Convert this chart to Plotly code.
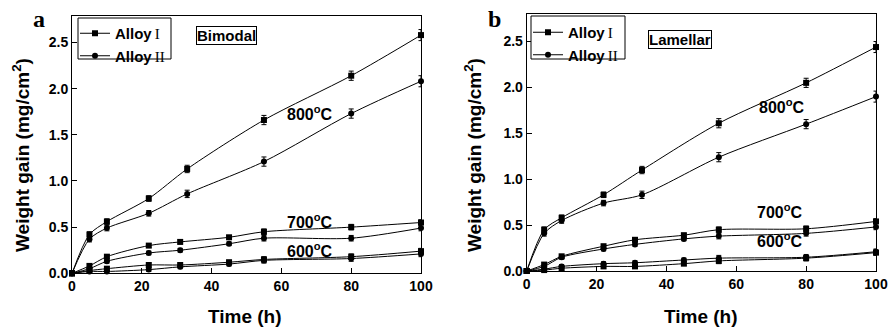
import plotly.graph_objects as go

# ---------------- data ----------------
time_800 = [0, 5, 10, 22, 33, 55, 80, 100]
time_low = [0, 5, 10, 22, 31, 45, 55, 80, 100]

# panel a (Bimodal)
a_800_I = [0, 0.42, 0.56, 0.81, 1.13, 1.66, 2.14, 2.58]
a_800_II = [0, 0.37, 0.49, 0.65, 0.86, 1.21, 1.73, 2.08]
a_700_I = [0, 0.08, 0.18, 0.30, 0.34, 0.39, 0.45, 0.50, 0.55]
a_700_II = [0, 0.05, 0.13, 0.22, 0.25, 0.32, 0.38, 0.38, 0.49]
a_600_I = [0, 0.03, 0.05, 0.09, 0.09, 0.12, 0.15, 0.18, 0.24]
a_600_II = [0, 0.02, 0.02, 0.04, 0.07, 0.10, 0.14, 0.16, 0.21]

# panel b (Lamellar)
b_800_I = [0, 0.45, 0.58, 0.83, 1.10, 1.61, 2.05, 2.44]
b_800_II = [0, 0.41, 0.55, 0.74, 0.83, 1.24, 1.60, 1.90]
b_700_I = [0, 0.07, 0.16, 0.27, 0.34, 0.39, 0.45, 0.46, 0.54]
b_700_II = [0, 0.05, 0.15, 0.24, 0.29, 0.35, 0.38, 0.41, 0.48]
b_600_I = [0, 0.01, 0.03, 0.05, 0.05, 0.08, 0.11, 0.14, 0.20]
b_600_II = [0, 0.02, 0.05, 0.08, 0.09, 0.12, 0.14, 0.15, 0.21]

err_800 = [0, 0.03, 0.03, 0.03, 0.04, 0.05, 0.05, 0.06]
err_low = [0, 0.02, 0.02, 0.02, 0.02, 0.02, 0.03, 0.03, 0.03]

x_ticks = [0, 20, 40, 60, 80, 100]
y_ticks = [0.0, 0.5, 1.0, 1.5, 2.0, 2.5]
y_tick_labels = ["0.0", "0.5", "1.0", "1.5", "2.0", "2.5"]

temp_labels = ["800<sup>o</sup>C", "700<sup>o</sup>C", "600<sup>o</sup>C"]
a_label_pos = [(68.3, 1.74), (68.3, 0.57), (68.3, 0.25)]
b_label_pos = [(73.0, 1.80), (72.5, 0.65), (72.5, 0.34)]

alloy_names = [
    "Alloy<span style='font-family:Liberation Serif;font-weight:normal'>\u2009I</span>",
    "Alloy<span style='font-family:Liberation Serif;font-weight:normal'>\u2009II</span>",
]

SANS = "Liberation Sans, Arial, sans-serif"
fig = go.Figure()


def add_panel(xa, ya, leg, series):
    for i, (t, v, e, alloy, show) in enumerate(series):
        fig.add_trace(go.Scatter(
            x=t, y=v, mode="lines+markers",
            line=dict(color="black", width=1, shape="spline", smoothing=0.8),
            marker=dict(symbol="square" if alloy == 0 else "circle",
                        size=6, color="black"),
            error_y=dict(type="data", array=e, visible=True, color="black",
                         thickness=1, width=2.5),
            name=alloy_names[alloy], showlegend=show,
            legend=leg, xaxis=xa, yaxis=ya, cliponaxis=False,
        ))


add_panel("x", "y", "legend", [
    (time_800, a_800_I, err_800, 0, True),
    (time_800, a_800_II, err_800, 1, True),
    (time_low, a_700_I, err_low, 0, False),
    (time_low, a_700_II, err_low, 1, False),
    (time_low, a_600_I, err_low, 0, False),
    (time_low, a_600_II, err_low, 1, False),
])
add_panel("x2", "y2", "legend2", [
    (time_800, b_800_I, err_800, 0, True),
    (time_800, b_800_II, err_800, 1, True),
    (time_low, b_700_I, err_low, 0, False),
    (time_low, b_700_II, err_low, 1, False),
    (time_low, b_600_I, err_low, 0, False),
    (time_low, b_600_II, err_low, 1, False),
])

W, H = 891, 329


def px_x(p):
    return p / W


def px_y(p):
    return 1 - p / H


axis_common = dict(
    showline=True, linecolor="black", linewidth=1, mirror=True,
    ticks="inside", ticklen=5, tickcolor="black", tickwidth=1,
    showgrid=False, zeroline=False, automargin=False,
    tickfont=dict(family=SANS, size=14, color="black", weight="bold"),
)

legend_common = dict(
    xanchor="left", yanchor="top",
    bgcolor="rgba(0,0,0,0)", borderwidth=0,
    itemwidth=30, tracegroupgap=0,
    font=dict(family=SANS, size=15, color="black", weight="bold"),
)

fig.update_layout(
    width=W, height=H,
    margin=dict(l=0, r=0, t=0, b=0, pad=0, autoexpand=False),
    paper_bgcolor="white", plot_bgcolor="white",
    xaxis=dict(domain=[px_x(72), px_x(421)], range=[0, 100],
               tickvals=x_ticks, anchor="y", **axis_common),
    yaxis=dict(domain=[px_y(273.3), px_y(15.7)], range=[0, 2.79],
               tickvals=y_ticks, ticktext=y_tick_labels, anchor="x", **axis_common),
    xaxis2=dict(domain=[px_x(526.7), px_x(876)], range=[0, 100],
                tickvals=x_ticks, anchor="y2", **axis_common),
    yaxis2=dict(domain=[px_y(271), px_y(14)], range=[0, 2.80],
                tickvals=y_ticks, ticktext=y_tick_labels, anchor="x2", **axis_common),
    legend=dict(x=px_x(75), y=px_y(17), **legend_common),
    legend2=dict(x=px_x(528), y=px_y(16), **legend_common),
)

# legend frames
shapes = []
for x0, y0, x1, y1 in [(78, 18, 171, 59), (531, 16, 625, 59)]:
    shapes.append(dict(type="rect", xref="paper", yref="paper",
                       x0=px_x(x0), x1=px_x(x1), y0=px_y(y1), y1=px_y(y0),
                       line=dict(color="black", width=1), fillcolor="white",
                       layer="above"))
fig.update_layout(shapes=shapes)

ann = []
C = dict(xanchor="center", yanchor="middle", showarrow=False)
# temperature labels
for (xx, yy), txt in zip(a_label_pos, temp_labels):
    ann.append(dict(x=xx, y=yy, xref="x", yref="y", text=txt, **C,
                    font=dict(family=SANS, size=16, color="black", weight="bold")))
for (xx, yy), txt in zip(b_label_pos, temp_labels):
    ann.append(dict(x=xx, y=yy, xref="x2", yref="y2", text=txt, **C,
                    font=dict(family=SANS, size=16, color="black", weight="bold")))

# boxed microstructure labels
for cx, cy, txt in [(226.5, 35.5, "Bimodal"), (680, 39.5, "Lamellar")]:
    ann.append(dict(x=px_x(cx), y=px_y(cy), xref="paper", yref="paper", text=txt, **C,
                    bordercolor="black", borderwidth=1, borderpad=0,
                    bgcolor="white",
                    font=dict(family=SANS, size=15, color="black", weight="bold")))

# panel letters
for cx, cy, txt in [(39, 19, "a"), (494, 19, "b")]:
    ann.append(dict(x=px_x(cx), y=px_y(cy), xref="paper", yref="paper", text=txt, **C,
                    font=dict(family="Liberation Serif, Times New Roman, serif",
                              size=24, color="black", weight="bold")))

# axis titles
for cx in [245, 701]:
    ann.append(dict(x=px_x(cx), y=px_y(316), xref="paper", yref="paper",
                    text="Time (h)", **C,
                    font=dict(family=SANS, size=19, color="black", weight="bold")))
for cx in [21, 473]:
    ann.append(dict(x=px_x(cx), y=px_y(155), xref="paper", yref="paper",
                    text="Weight gain (mg/cm<sup>2</sup>)", textangle=-90, **C,
                    font=dict(family=SANS, size=19, color="black", weight="bold")))

fig.update_layout(annotations=ann)
fig.write_html(
    "out.html",
    config={"displayModeBar": False},
    post_script="document.body.style.margin='0';document.body.style.overflow='hidden';",
)
